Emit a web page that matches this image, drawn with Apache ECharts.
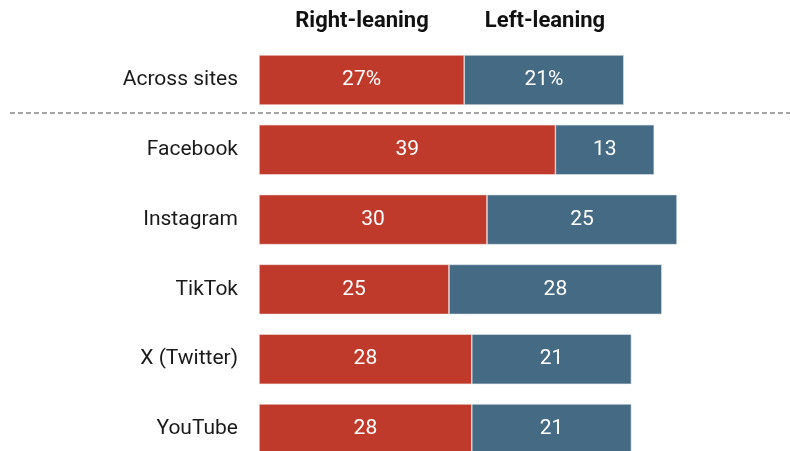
<!DOCTYPE html>
<html><head><meta charset="utf-8">
<script src="https://cdn.jsdelivr.net/npm/echarts@6/dist/echarts.min.js"></script>
<style>html,body{margin:0;padding:0;background:#fff}#c{width:790px;height:451px}</style>
</head><body><div id="c"></div>
<script>
const categories = ["Across sites","Facebook","Instagram","TikTok","X (Twitter)","YouTube"];
const rightLeaning = [27,39,30,25,28,28];
const leftLeaning = [21,13,25,28,21,21];
const seriesNames = ["Right-leaning","Left-leaning"];

const FONT = "Roboto";
const chart = echarts.init(document.getElementById('c'), null, {renderer:'canvas'});
function lbl(p){ return p.dataIndex === 0 ? p.value + '%' : String(p.value); }
chart.setOption({
  animation:false,
  grid:{left:259, top:80, width:456, height:349, containLabel:false},
  xAxis:{type:'value', min:0, max:60, show:false},
  yAxis:{type:'category', data:categories, inverse:true, boundaryGap:false,
    axisLine:{show:false}, axisTick:{show:false}, splitLine:{show:false},
    axisLabel:{color:'#1a1a1a', fontSize:21, fontFamily:FONT, margin:21}},
  series:[
    {name:seriesNames[0], type:'bar', stack:'a', data:rightLeaning, barWidth:50,
     itemStyle:{color:'#bf3a2b', borderColor:'#f3e3e0', borderWidth:0.6},
     label:{show:true, position:'inside', color:'#fff', fontSize:21, fontFamily:FONT, formatter:lbl}},
    {name:seriesNames[1], type:'bar', stack:'a', data:leftLeaning, barWidth:50,
     itemStyle:{color:'#456a84', borderColor:'#dfe6ec', borderWidth:0.6},
     label:{show:true, position:'inside', color:'#fff', fontSize:21, fontFamily:FONT, formatter:lbl}}
  ],
  graphic:[
    {type:'line', shape:{x1:10,y1:113,x2:790,y2:113}, style:{stroke:'#888', lineWidth:1.5, lineDash:[5,3]}},
    {type:'text', x:362, y:21, style:{text:seriesNames[0], fill:'#111', font:'bold 22px '+FONT, textAlign:'center', textVerticalAlign:'middle'}},
    {type:'text', x:545, y:21, style:{text:seriesNames[1], fill:'#111', font:'bold 22px '+FONT, textAlign:'center', textVerticalAlign:'middle'}}
  ]
});
</script></body></html>
